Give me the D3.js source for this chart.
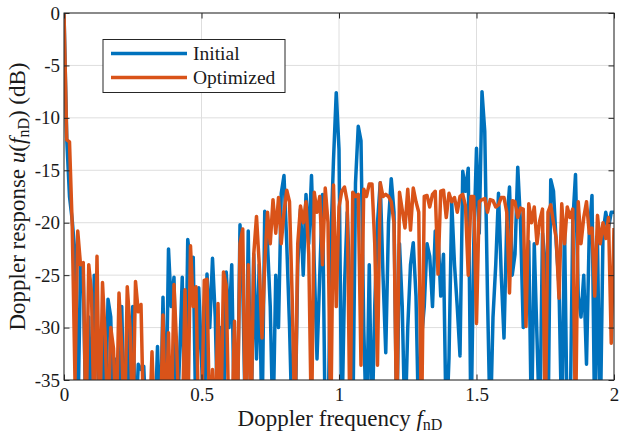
<!DOCTYPE html>
<html>
<head>
<meta charset="utf-8">
<script src="https://cdn.jsdelivr.net/npm/d3@7"></script>
<style>
  html, body { margin: 0; padding: 0; background: #fff; }
  svg { display: block; }
  text { font-family: "Liberation Serif", "DejaVu Serif", serif; fill: #1a1a1a; }
</style>
</head>
<body>
<svg id="chart" width="621" height="434"></svg>
<script>
// ---- data ----
const freqStep = 0.01;            // frequency grid spacing of the samples
const xTicks = [0, 0.5, 1, 1.5, 2];
const xTickLabels = ["0", "0.5", "1", "1.5", "2"];
const yTicks = [-35, -30, -25, -20, -15, -10, -5, 0];
const yTickLabels = ["-35", "-30", "-25", "-20", "-15", "-10", "-5", "0"];
const seriesNames = ["Initial", "Optimized"];

// Doppler response (dB), samples at f = 0, 0.01, ..., 2.00
const initial = [
  0, -12, -17.5, -19.8, -23, -40, -24, -25, -40, -29,
  -40, -25, -30, -40, -30, -40, -27.3, -29, -40, -33,
  -40, -28, -40, -30, -40, -28, -40, -33.5, -34, -33.7,
  -40, -40, -40, -40, -31.8, -40, -27.1, -40, -22.5, -28,
  -25.2, -40, -33, -25.2, -40, -21.6, -24, -23.3, -40, -26.2,
  -33, -40, -24.9, -30, -23.4, -29, -40, -30, -40, -24.7,
  -30, -24, -40, -40, -20.2, -26, -40, -20.8, -40, -23,
  -33, -24, -40, -18.9, -22, -28, -40, -25, -30, -17.2,
  -15.5, -22, -29.8, -40, -40, -24, -18.7, -25, -17.3, -22,
  -15.5, -24, -33, -25, -17.3, -40, -40, -22, -14, -7.6,
  -13, -40, -26, -19, -27, -40, -16.2, -10.8, -12.2, -30,
  -40, -24, -40, -28, -20, -16.2, -25, -32.4, -20, -15.8,
  -19, -40, -22, -28, -40, -30, -24, -21.9, -27, -40,
  -31, -28, -22, -23.2, -28, -20.8, -21, -27, -23, -40,
  -32.9, -18.1, -24, -28, -32.7, -15.1, -17, -14.8, -40, -22,
  -12.9, -21, -7.5, -11.3, -27, -40, -29, -24, -17.2, -25,
  -31, -20, -16.6, -25, -23, -14.7, -20, -30, -26, -21.8,
  -40, -22, -31, -40, -21, -24, -40, -15.9, -17, -22,
  -26, -40, -20, -40, -40, -20, -15.4, -27, -29, -25,
  -33.5, -21, -17.4, -40, -22, -40, -21, -19, -20.5, -19,
  -19
];
const optimized = [
  0, -12.1, -12.3, -20.4, -35, -20.8, -24, -23.8, -40, -24,
  -26.7, -40, -23.2, -40, -25.7, -31, -40, -30, -32, -40,
  -26.7, -32, -40, -26.1, -30, -40, -25.6, -28.5, -27.8, -40,
  -40, -40, -32.3, -40, -40, -40, -28.8, -40, -30.5, -40,
  -25.9, -32, -40, -40, -26.4, -40, -22.2, -28, -26.1, -40,
  -40, -25.5, -25.4, -40, -34, -40, -27.7, -40, -24.7, -26,
  -40, -40, -29.4, -40, -22, -20.6, -40, -24, -40, -23,
  -19.4, -24, -31, -24, -19, -22, -17.8, -21, -17.6, -22,
  -19, -16.9, -18, -27.4, -40, -22, -18.4, -20, -18, -23,
  -40, -17.1, -19, -17.5, -24, -16.7, -20, -40, -16.4, -28,
  -18.5, -17, -16.6, -18, -40, -17.1, -17.5, -17.3, -33.6, -16.8,
  -17.5, -16.3, -16.3, -22, -33.6, -16.2, -17.5, -17.3, -17.5, -18,
  -20, -40, -17.1, -18.8, -20.5, -16.8, -20.7, -16.7, -18, -19,
  -40, -17.5, -17.4, -18.5, -17.3, -17, -24.9, -17, -16.9, -19.5,
  -17.2, -18, -17.6, -19, -17.5, -17.3, -18.4, -25, -17.5, -17.5,
  -29.6, -18, -17.8, -17.7, -19, -17.8, -17.9, -18.5, -18.3, -17.6,
  -17.6, -19, -26.7, -17.9, -18, -19.5, -18.6, -18.7, -29.9, -18.2,
  -20, -18.5, -22, -19.8, -18.7, -40, -19, -18.3, -20, -21.5,
  -27.2, -18.2, -22, -18.5, -19.5, -18.7, -40, -18, -22, -19.5,
  -18, -21, -20.5, -27, -19.3, -22, -20, -21.5, -19.5, -31.5,
  -20.5
];

// ---- layout ----
const W = 621, H = 434;
const L = 64, R = 614, T = 13, B = 380;
const colors = ["#0072BD", "#D95319"];
const axisColor = "#262626";

const svg = d3.select("#chart");
const x = d3.scaleLinear().domain([0, 2]).range([L, R]);
const y = d3.scaleLinear().domain([-35, 0]).range([B, T]);

// grid
const grid = svg.append("g").attr("stroke", "#dedede").attr("stroke-width", 1);
grid.selectAll(".gx").data(xTicks).enter().append("line")
  .attr("x1", d => x(d)).attr("x2", d => x(d)).attr("y1", T).attr("y2", B);
grid.selectAll(".gy").data(yTicks).enter().append("line")
  .attr("y1", d => y(d)).attr("y2", d => y(d)).attr("x1", L).attr("x2", R);

// clip
svg.append("defs").append("clipPath").attr("id", "plotclip")
  .append("rect").attr("x", L).attr("y", T).attr("width", R - L).attr("height", B - T);

const line = d3.line().x(d => x(d.f)).y(d => y(d.v));
[initial, optimized].forEach((s, k) => {
  const pts = s.map((v, i) => ({ f: i * freqStep, v }));
  svg.append("path").datum(pts)
    .attr("clip-path", "url(#plotclip)")
    .attr("fill", "none").attr("stroke", colors[k])
    .attr("stroke-width", 3.5).attr("stroke-linejoin", "round")
    .attr("d", line);
});

// axes
const tickLen = 5.5;
const fmtX = d => xTickLabels[xTicks.indexOf(d)];
const fmtY = d => yTickLabels[yTicks.indexOf(d)];
const gx = svg.append("g").attr("transform", `translate(0,${B})`)
  .call(d3.axisBottom(x).tickValues(xTicks).tickFormat(fmtX).tickSizeInner(-tickLen).tickSizeOuter(0).tickPadding(7.5));
const gxt = svg.append("g").attr("transform", `translate(0,${T})`)
  .call(d3.axisTop(x).tickValues(xTicks).tickFormat("").tickSizeInner(-tickLen).tickSizeOuter(0));
const gy = svg.append("g").attr("transform", `translate(${L},0)`)
  .call(d3.axisLeft(y).tickValues(yTicks).tickFormat(fmtY).tickSizeInner(-tickLen).tickSizeOuter(0).tickPadding(4));
const gyr = svg.append("g").attr("transform", `translate(${R},0)`)
  .call(d3.axisRight(y).tickValues(yTicks).tickFormat("").tickSizeInner(-tickLen).tickSizeOuter(0));
[gx, gxt, gy, gyr].forEach(g => {
  g.select(".domain").remove();
  g.selectAll("line").attr("stroke", axisColor).attr("stroke-width", 1);
  g.selectAll("text").attr("font-family", "Liberation Serif, serif").attr("font-size", 19).attr("fill", "#1a1a1a");
});
svg.append("rect").attr("x", L).attr("y", T).attr("width", R - L).attr("height", B - T)
  .attr("fill", "none").attr("stroke", axisColor).attr("stroke-width", 1);

// axis titles
const xt = svg.append("text").attr("x", 340).attr("y", 426).attr("text-anchor", "middle").attr("font-size", 23);
xt.append("tspan").text("Doppler frequency ");
xt.append("tspan").attr("font-style", "italic").text("f");
xt.append("tspan").attr("font-size", 16).attr("dy", 4).text("nD");

const yt = svg.append("text").attr("transform", "translate(25,196.5) rotate(-90)")
  .attr("text-anchor", "middle").attr("font-size", 23);
yt.append("tspan").text("Doppler response ");
yt.append("tspan").attr("font-style", "italic").text("u");
yt.append("tspan").text("(");
yt.append("tspan").attr("font-style", "italic").text("f");
yt.append("tspan").attr("font-size", 16).attr("dy", 4).text("nD");
yt.append("tspan").attr("dy", -4).text(") (dB)");

// legend
const lg = svg.append("g");
lg.append("rect").attr("x", 103).attr("y", 39.5).attr("width", 182).attr("height", 53)
  .attr("fill", "#fff").attr("stroke", axisColor).attr("stroke-width", 1);
seriesNames.forEach((name, k) => {
  const yy = 53.5 + k * 24;
  lg.append("line").attr("x1", 111).attr("x2", 187).attr("y1", yy).attr("y2", yy)
    .attr("stroke", colors[k]).attr("stroke-width", 3.5);
  lg.append("text").attr("x", 193).attr("y", yy + 6).attr("font-size", 19.5).text(name);
});
</script>
</body>
</html>
